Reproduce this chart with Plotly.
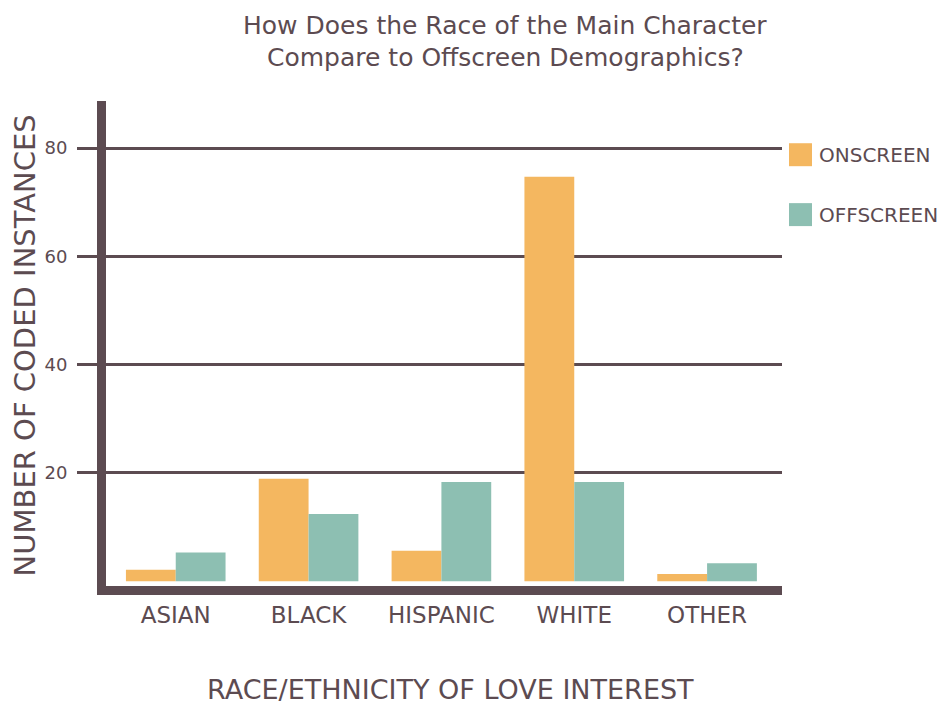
import plotly.graph_objects as go

categories = ["ASIAN", "BLACK", "HISPANIC", "WHITE", "OTHER"]
onscreen = [2.1, 18.9, 5.6, 74.7, 1.3]
offscreen = [5.3, 12.4, 18.3, 18.3, 3.3]
y_ticks = [20, 40, 60, 80]
series_names = ["ONSCREEN", "OFFSCREEN"]
title_lines = ["How Does the Race of the Main Character", "Compare to Offscreen Demographics?"]

ORANGE = "#F4B760"
TEAL = "#8DBFB2"
DARK = "#5C4B51"
FONT = "DejaVu Sans"

W, H = 937, 696
L, R, T, B = 97.5, 163, 92.7, 117.5
PW, PH = W - L - R, H - T - B
OFF = 8  # page body margin


def xp(px):
    return (px - OFF - L) / PW


def yp(py):
    return 1 - (py - OFF - T) / PH


fig = go.Figure()
fig.add_trace(go.Bar(x=categories, y=onscreen, name=series_names[0],
                     marker=dict(color=ORANGE, line=dict(width=0))))
fig.add_trace(go.Bar(x=categories, y=offscreen, name=series_names[1],
                     marker=dict(color=TEAL, line=dict(width=0))))

fig.update_layout(
    width=W, height=H,
    margin=dict(l=L, r=R, t=T, b=B, autoexpand=False),
    paper_bgcolor="white", plot_bgcolor="white",
    barmode="group", bargap=0.25, bargroupgap=0,
    showlegend=False,
    font=dict(family=FONT, color=DARK),
)
fig.update_xaxes(
    range=[-0.525, 4.564], showline=True, linewidth=9, linecolor=DARK,
    ticks="", showgrid=False, tickfont=dict(size=23, color=DARK),
)
fig.update_yaxes(
    range=[-0.9, 88.7], tickvals=y_ticks, showline=True, linewidth=9, linecolor=DARK,
    showgrid=True, gridcolor=DARK, gridwidth=3,
    ticks="outside", ticklen=20, tickwidth=3, tickcolor=DARK,
    tickfont=dict(size=18, color=DARK), zeroline=False, ticklabelstandoff=6,
)

# title (two lines)
for line, cy in zip(title_lines, [25, 57]):
    fig.add_annotation(xref="paper", yref="paper", x=xp(505), y=yp(cy),
                       text=line, showarrow=False, xanchor="center", yanchor="middle",
                       font=dict(size=25, color=DARK, family=FONT))
# axis titles
fig.add_annotation(xref="paper", yref="paper", x=xp(450), y=yp(690),
                   text="RACE/ETHNICITY OF LOVE INTEREST", showarrow=False,
                   xanchor="center", yanchor="middle", font=dict(size=27, color=DARK, family=FONT))
fig.add_annotation(xref="paper", yref="paper", x=xp(24), y=yp(346),
                   text="NUMBER OF CODED INSTANCES", showarrow=False, textangle=-90,
                   xanchor="center", yanchor="middle", font=dict(size=29, color=DARK, family=FONT))

# custom legend
legend_colors = [ORANGE, TEAL]
for i, (nm, col) in enumerate(zip(series_names, legend_colors)):
    top = 143 + i * 60
    bot = 166 + i * 60
    fig.add_shape(type="rect", xref="paper", yref="paper",
                  x0=xp(789), x1=xp(812), y0=yp(bot), y1=yp(top),
                  fillcolor=col, line=dict(width=0))
    fig.add_annotation(xref="paper", yref="paper", x=xp(817), y=yp((top + bot) / 2),
                       text=nm, showarrow=False, xanchor="left", yanchor="middle",
                       font=dict(size=20, color=DARK, family=FONT))

fig.write_html("out.html")
